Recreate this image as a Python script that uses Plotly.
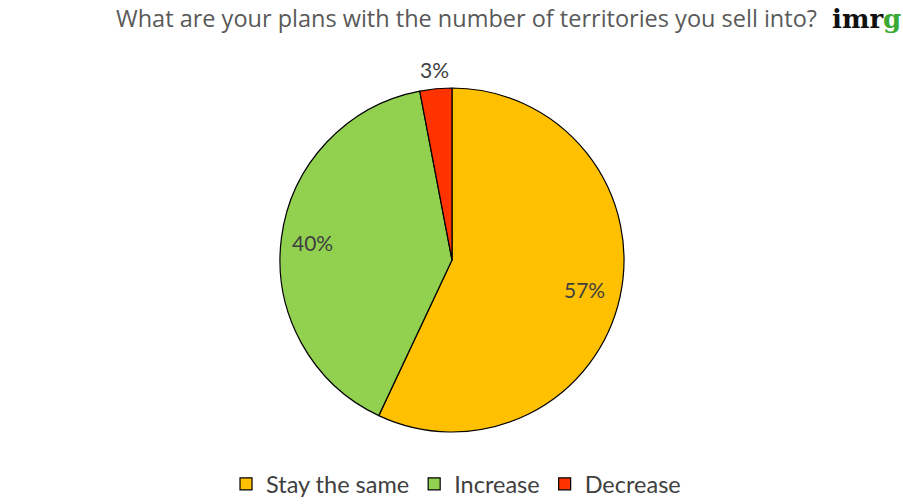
import math
import plotly.graph_objects as go

labels = ["Stay the same", "Increase", "Decrease"]
values = [57, 40, 3]
colors = ["#FFC000", "#92D050", "#FF3300"]
label_radius = [0.79, 0.82, 1.11]  # radial placement of the percent labels (fraction of radius)

W, H = 903, 504
CX, CY, R = 452, 260, 172  # pie centre and radius in pixels

fig = go.Figure()
fig.add_trace(go.Pie(
    labels=labels, values=values, sort=False, direction="clockwise", rotation=0,
    marker=dict(colors=colors, line=dict(color="#000000", width=1.2)),
    textinfo="none",
    domain=dict(x=[(CX - R) / W, (CX + R) / W], y=[(H - CY - R) / H, (H - CY + R) / H]),
    hoverinfo="label+percent",
))

# percent labels, placed along each slice's mid-angle (computed from the values)
total = sum(values)
cum = 0
for v, k in zip(values, label_radius):
    mid = (cum + v / 2) / total * 2 * math.pi
    cum += v
    px = CX + k * R * math.sin(mid)
    py = CY - k * R * math.cos(mid)
    fig.add_annotation(
        text=f"{round(100 * v / total)}%", xref="paper", yref="paper",
        x=px / W, y=1 - py / H, xanchor="center", yanchor="middle", showarrow=False,
        font=dict(family="Lato", size=21, color="#404040"),
    )

fig.add_annotation(
    text="What are your plans with the number of territories you sell into?",
    xref="paper", yref="paper", x=466 / W, y=1 - 18 / H, xanchor="center", yanchor="middle",
    showarrow=False, font=dict(family="Open Sans", size=23.5, color="#595959"),
)
fig.add_annotation(
    text="<b>imr<span style='color:#3AAA35'>g</span></b>",
    xref="paper", yref="paper", x=866 / W, y=1 - 19 / H, xanchor="center", yanchor="middle",
    showarrow=False, font=dict(family="DejaVu Serif", size=26, color="#111111"),
)

fig.update_layout(
    width=W, height=H, margin=dict(l=0, r=0, t=0, b=0, autoexpand=False),
    paper_bgcolor="white", plot_bgcolor="white",
    showlegend=True,
    legend=dict(orientation="h", x=0.505, xanchor="center", y=1 - 484 / H, yanchor="middle",
                font=dict(family="Lato", size=23.5, color="#404040"), itemwidth=30,
                tracegroupgap=0),
)
fig.write_html("out.html", config={"displayModeBar": False},
               post_script="document.body.style.margin='0';")
